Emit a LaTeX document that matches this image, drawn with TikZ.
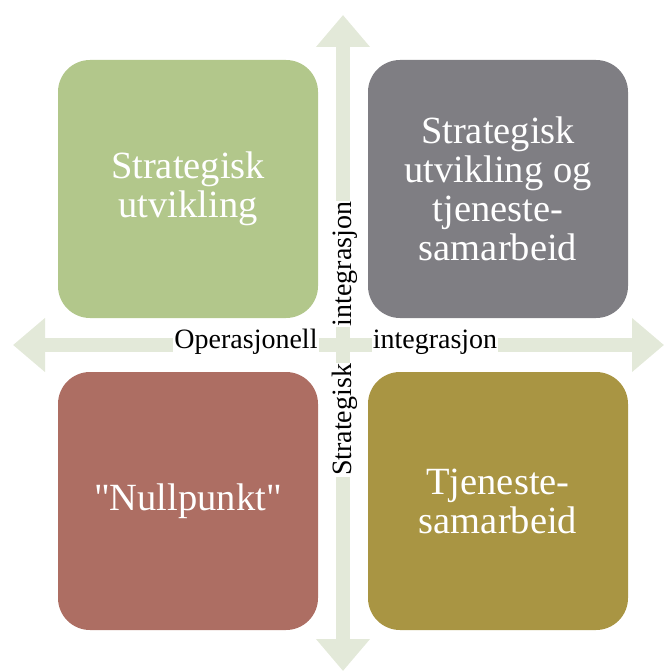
\documentclass[tikz,border=0pt]{standalone}
\usepackage{fontspec}
\setmainfont{Liberation Serif}
\usetikzlibrary{arrows.meta}
\definecolor{leafgreen}{HTML}{B2C78B}
\definecolor{slategray}{HTML}{7F7E83}
\definecolor{brickred}{HTML}{AD6E63}
\definecolor{mustard}{HTML}{A99543}
\definecolor{axisgreen}{HTML}{E3E9D9}
% straight double quote, past the TeX ligature mapping
\newcommand\plainquote{\XeTeXglyph\XeTeXglyphindex "quotedbl" \relax}
\tikzstyle{block} = [rectangle, rounded corners=32pt, minimum width=260pt, minimum height=258pt, text=white, align=center, font=\fontsize{38.5}{39}\selectfont]
\tikzstyle{axis} = [line width=14pt, draw=axisgreen, {Triangle[length=32pt,width=52pt]}-{Triangle[length=32pt,width=52pt]}]
\tikzstyle{axislabel} = [fill=white, inner sep=1pt, font=\fontsize{28}{30}\selectfont]

\begin{document}
\begin{tikzpicture}[x=1pt,y=-1pt]
  \useasboundingbox (0,0) rectangle (664,671);
  % the two axes
  \coordinate (west) at (13,345);
  \coordinate (east) at (664,345);
  \coordinate (north) at (343,15);
  \coordinate (south) at (343,671);
  \draw[axis] (west) -- (east);
  \draw[axis] (south) -- (north);
  \node[axislabel] (oplabel) at (246,342) {Operasjonell};
  \node[axislabel] (intlabelh) at (435,342) {integrasjon};
  \node[axislabel, rotate=90] (stlabel) at (345,420) {Strategisk};
  \node[axislabel, rotate=90] (intlabelv) at (345,264) {integrasjon};
  % the four quadrants
  \draw (188,189) node[block, fill=leafgreen](dev){Strategisk\\utvikling};
  \draw (498,189) node[block, fill=slategray](devcoop){Strategisk\\utvikling og\\tjeneste-\\samarbeid};
  \draw (188,501) node[block, fill=brickred](zero){\plainquote Nullpunkt\plainquote};
  \draw (498,501) node[block, fill=mustard](coop){Tjeneste-\\samarbeid};
\end{tikzpicture}
\end{document}
